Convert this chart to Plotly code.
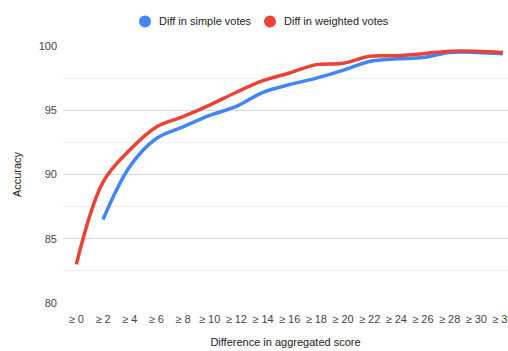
import plotly.graph_objects as go

# Minimum difference in aggregated score (x categories)
thresholds = [f"≥ {v}" for v in range(0, 33, 2)]

# Accuracy (%) for each threshold
simple_votes = [None, 86.5, 90.6, 92.8, 93.7, 94.6, 95.3, 96.4, 97.0, 97.5,
                98.1, 98.8, 99.0, 99.1, 99.5, 99.5, 99.4]
weighted_votes = [83.0, 89.4, 91.9, 93.7, 94.5, 95.4, 96.4, 97.3, 97.9, 98.55,
                  98.65, 99.2, 99.25, 99.4, 99.6, 99.6, 99.5]

series_names = ["Diff in simple votes", "Diff in weighted votes"]
series_colors = ["#4285F4", "#EA4335"]

W, H = 508, 351
ML, MR, MT, MB = 63, 0, 46, 48
PW, PH = W - ML - MR, H - MT - MB

FONT = "Liberation Sans, Arial, sans-serif"

fig = go.Figure()
for name, vals, color in zip(series_names, [simple_votes, weighted_votes], series_colors):
    fig.add_trace(go.Scatter(
        x=thresholds, y=vals, name=name, mode="lines",
        line=dict(color=color, width=3.5, shape="spline", smoothing=1),
        connectgaps=False, showlegend=False,
    ))


def px_x(p):
    return (p - ML) / PW


def px_y(p):
    return (H - MB - p) / PH


# Legend drawn as dot + label pairs along the top
legend_items = [(145, series_names[0], series_colors[0]),
                (270, series_names[1], series_colors[1])]
shapes = []
annotations = []
for cx, label, color in legend_items:
    cy, r = 21.5, 6
    shapes.append(dict(type="circle", xref="paper", yref="paper",
                       x0=px_x(cx - r), x1=px_x(cx + r),
                       y0=px_y(cy + r), y1=px_y(cy - r),
                       fillcolor=color, line=dict(width=0)))
    annotations.append(dict(xref="paper", yref="paper", x=px_x(cx + 12), y=px_y(cy),
                            xanchor="left", yanchor="middle", showarrow=False,
                            text=label, font=dict(family=FONT, size=11, color="#222222")))

fig.update_layout(
    width=W, height=H,
    margin=dict(l=ML, r=MR, t=MT, b=MB, autoexpand=False),
    paper_bgcolor="white", plot_bgcolor="white",
    font=dict(family=FONT, size=11, color="#444444"),
    shapes=shapes, annotations=annotations,
    xaxis=dict(
        type="category", range=[-0.5, 16.19], showgrid=False, zeroline=False,
        showline=False, ticks="", ticklabelstandoff=8,
        tickfont=dict(size=11, color="#444444"),
        title=dict(text="Difference in aggregated score", standoff=14,
                   font=dict(size=11, color="#222222")),
        automargin=False,
    ),
    yaxis=dict(
        range=[80, 100], dtick=5, showgrid=True, gridcolor="#d6d6d6", gridwidth=1,
        zeroline=False, showline=False, ticks="", ticklabelstandoff=5,
        tickfont=dict(size=11, color="#444444"),
        minor=dict(dtick=2.5, showgrid=True, gridcolor="#efefef", gridwidth=1),
        title=dict(text="Accuracy", standoff=14, font=dict(size=11, color="#222222")),
        automargin=False,
    ),
)

fig.write_html("out.html")
